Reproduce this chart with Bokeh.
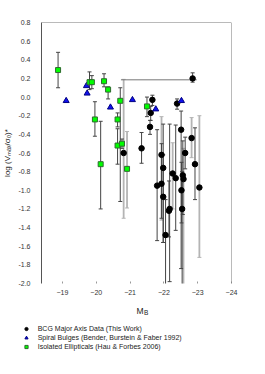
from bokeh.plotting import figure
from bokeh.layouts import column
from bokeh.models import (Range1d, FixedTicker, Span, Legend, LegendItem,
                          ColumnDataSource, Whisker, TeeHead, Label, PrintfTickFormatter)
from bokeh.embed import file_html
from bokeh.resources import INLINE

# ---------------- data ----------------
# BCG Major Axis Data (This Work)
bcg_mb = [-22.85, -21.66, -21.61, -21.59, -21.34, -22.39, -22.51, -22.82, -21.93, -22.63,
          -22.92, -21.98, -22.26, -22.35, -22.56, -22.58, -21.80, -21.93, -23.05, -22.52,
          -21.98, -22.17, -22.15, -22.54, -22.05, -20.81]
bcg_v = [0.20, -0.03, -0.17, -0.32, -0.55, -0.07, -0.35, -0.44, -0.62, -0.60,
         -0.72, -0.76, -0.82, -0.87, -0.84, -0.88, -0.95, -0.93, -0.97, -1.00,
         -1.07, -1.20, -1.22, -1.20, -1.48, -0.60]
bcg_hi = [0.26, 0.02, -0.10, -0.25, -0.38, -0.02, -0.15, -0.22, -0.21, -0.43,
          -0.33, -0.29, -0.49, -0.30, -0.47, -0.55, -0.35, -0.50, -0.20, -0.70,
          -0.62, -0.29, -0.90, -0.80, -1.10, 0.19]
bcg_lo = [0.16, -0.09, -0.25, -0.40, -0.71, -0.13, -1.84, -0.65, -1.32, -0.77,
          -1.10, -1.56, -1.20, -1.43, -1.26, -2.10, -1.54, -1.30, -1.72, -1.35,
          -1.56, -1.98, -1.50, -2.10, -2.20, -1.30]
# horizontal error of the brightest BCG (first entry)
bcg0_mb_lo = -20.73
bcg0_mb_hi = -22.97

# Spiral Bulges (Bender, Burstein & Faber 1992)
bul_mb = [-19.11, -19.71, -19.73, -20.42, -21.07, -21.76, -22.52]
bul_v = [-0.04, 0.12, 0.04, -0.11, -0.03, -0.13, -0.04]

# Isolated Ellipticals (Hau & Forbes 2006)
ell_mb = [-18.87, -19.80, -19.87, -20.23, -20.35, -20.71, -19.96, -20.63, -20.13, -20.91,
          -21.50, -20.63, -20.76]
ell_v = [0.29, 0.16, 0.16, 0.17, 0.08, -0.04, -0.24, -0.24, -0.72, -0.77,
         -0.10, -0.52, -0.50]
ell_hi = [0.48, 0.27, 0.23, 0.25, 0.11, 0.10, -0.05, -0.17, -0.26, -0.37,
          0.00, -0.34, -0.45]
ell_lo = [0.10, 0.08, 0.09, 0.11, -0.02, -1.12, -0.42, -0.32, -1.20, -1.19,
          -0.21, -0.72, -0.55]

x_ticks = [-19, -20, -21, -22, -23, -24]
y_ticks = [0.8, 0.6, 0.4, 0.2, 0.0, -0.2, -0.4, -0.6, -0.8, -1.0,
           -1.2, -1.4, -1.6, -1.8, -2.0]

labels = ["BCG Major Axis Data (This Work)",
          "Spiral Bulges (Bender, Burstein & Faber 1992)",
          "Isolated Ellipticals (Hau & Forbes 2006)"]

# ---------------- styling choices (which bars are drawn light grey) ----------------
bcg_light = {7, 8, 12, 15, 18, 25}
ell_light = {9}

FONT = "Liberation Sans"
W = 257

p = figure(width=W, height=300, output_backend="svg", toolbar_location=None,
           x_range=Range1d(-18.38, -24), y_range=Range1d(-2.0, 0.8),
           min_border_left=32, min_border_right=26, min_border_top=22, min_border_bottom=17)
p.frame_align = False
p.xgrid.visible = False
p.ygrid.visible = False
p.outline_line_color = None
p.background_fill_color = "white"

# frame top & right edges
p.add_layout(Span(location=0.8, dimension="width", line_color="#777777", line_width=1))
p.add_layout(Span(location=-24, dimension="height", line_color="#777777", line_width=1))

# axes
p.xaxis.ticker = FixedTicker(ticks=x_ticks)
p.yaxis.ticker = FixedTicker(ticks=y_ticks)
p.yaxis.formatter = PrintfTickFormatter(format="%.1f")
for ax in (p.xaxis[0], p.yaxis[0]):
    ax.major_label_text_font = FONT
    ax.major_label_text_font_size = "7px"
    ax.major_label_text_color = "#333333"
    ax.minor_tick_line_color = None
    ax.axis_label_text_font = FONT
    ax.axis_label_text_font_style = "normal"
    ax.axis_label_text_color = "#222222"
p.xaxis.axis_line_color = None
p.xaxis.major_tick_in = 2
p.xaxis.major_tick_out = 0
p.xaxis.major_tick_line_color = "#999999"
p.xaxis.major_label_standoff = 6
p.yaxis.axis_line_color = "#555555"
p.yaxis.major_tick_line_color = None
p.yaxis.major_label_standoff = 5
p.yaxis.axis_label = "log (Vₘₐₓ/σ₀)*"
p.yaxis.axis_label_text_font_size = "8px"
p.yaxis.axis_label_standoff = 3


def bars(xs, his, los, color, width):
    src = ColumnDataSource(dict(x=xs, upper=his, lower=los))
    w = Whisker(source=src, base="x", upper="upper", lower="lower", dimension="height",
                line_color=color, line_width=width, level="underlay",
                upper_head=TeeHead(size=4, line_color=color, line_width=1),
                lower_head=TeeHead(size=4, line_color=color, line_width=1))
    p.add_layout(w)


def split(xs, his, los, light):
    dk = [i for i in range(len(xs)) if i not in light]
    lt = [i for i in range(len(xs)) if i in light]
    return ([xs[i] for i in dk], [his[i] for i in dk], [los[i] for i in dk]), \
           ([xs[i] for i in lt], [his[i] for i in lt], [los[i] for i in lt])


d, l = split(bcg_mb, bcg_hi, bcg_lo, bcg_light)
bars(*l, "#b4b4b4", 1.8)
bars(*d, "#444444", 1)
d, l = split(ell_mb, ell_hi, ell_lo, ell_light)
bars(*l, "#b4b4b4", 1.8)
bars(*d, "#444444", 1)

# horizontal error of the first BCG point
p.segment(x0=[bcg0_mb_lo], y0=[bcg_v[0] - 0.015], x1=[bcg0_mb_hi], y1=[bcg_v[0] - 0.015],
          line_color="#777777", line_width=1)

BCG_STYLE = dict(marker="circle", size=5.5, fill_color="black", line_color="black")
BUL_STYLE = dict(marker="triangle", size=6, fill_color="#1010ee", line_color="#000080")
ELL_STYLE = dict(marker="square", size=5, fill_color="#00ff00", line_color="#2e6b2e")

p.scatter(bcg_mb, bcg_v, **BCG_STYLE)
p.scatter(bul_mb, bul_v, **BUL_STYLE)
p.scatter(ell_mb, ell_v, **ELL_STYLE)

# ---------------- lower strip: x-axis title and legend ----------------
H2 = 58
q = figure(width=W, height=H2, output_backend="svg", toolbar_location=None,
           x_range=Range1d(0, W), y_range=Range1d(H2, 0),
           min_border=0, min_border_left=0, min_border_right=0,
           min_border_top=0, min_border_bottom=0)
q.frame_align = False
q.axis.visible = False
q.grid.visible = False
q.outline_line_color = None

q.add_layout(Label(x=139.5, y=10, text="M", text_font=FONT, text_font_size="8.5px",
                   text_color="#222222", text_align="center", text_baseline="alphabetic"))
q.add_layout(Label(x=143.6, y=11.7, text="B", text_font=FONT, text_font_size="6.5px",
                   text_color="#222222", text_align="left", text_baseline="alphabetic"))

# legend swatches: one point of each series (outside this strip's view)
r_bcg = q.scatter(bcg_mb[:1], bcg_v[:1], **BCG_STYLE)
r_bul = q.scatter(bul_mb[:1], bul_v[:1], **BUL_STYLE)
r_ell = q.scatter(ell_mb[:1], ell_v[:1], **ELL_STYLE)

legend = Legend(items=[LegendItem(label=labels[0], renderers=[r_bcg]),
                       LegendItem(label=labels[1], renderers=[r_bul]),
                       LegendItem(label=labels[2], renderers=[r_ell])],
                location=(21.7, 7.5), orientation="vertical",
                label_text_font=FONT, label_text_font_size="7px", label_text_color="#222222",
                label_height=9, glyph_height=9, glyph_width=8, label_standoff=8,
                spacing=0, padding=0, margin=0,
                border_line_color=None, background_fill_alpha=0)
q.add_layout(legend)

layout = column(p, q, spacing=0)
open("out.html", "w").write(file_html(layout, INLINE))
